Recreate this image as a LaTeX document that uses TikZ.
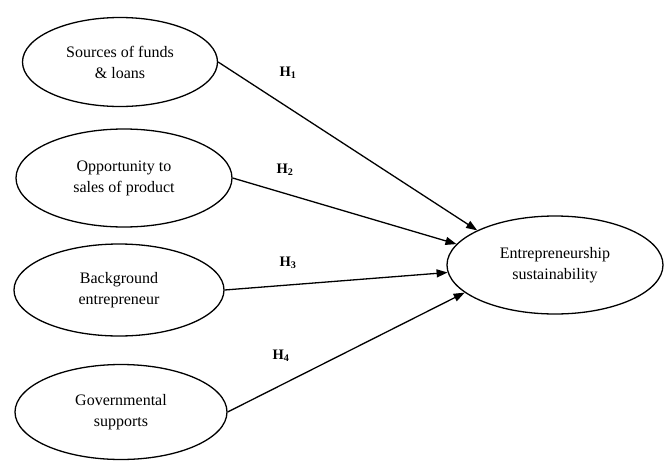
\documentclass[tikz,border=0pt]{standalone}
\usepackage{fontspec}
\setmainfont{Liberation Serif}
\usetikzlibrary{arrows.meta, shapes.geometric, positioning}

\tikzset{
	factor/.style={draw, ellipse, line width=1.3pt, inner sep=0pt, align=center, font=\fontsize{16}{21}\selectfont},
	hyp/.style={font=\fontsize{14.5}{16}\selectfont\bfseries},
}

\begin{document}
\begin{tikzpicture}[x=1pt, y=-1pt, >={Triangle[length=11pt,width=8pt]}]
		\useasboundingbox (0,0) rectangle (670,461);
		% independent factors
		\node[factor, minimum width=195pt, minimum height=89pt] (funds) at (120,62) {Sources of funds\\\& loans};
		\node[factor, minimum width=216pt, minimum height=98pt] (sales) at (124,178) {Opportunity to\\sales of product};
		\node[factor, minimum width=210pt, minimum height=92pt] (backgr) at (119,290) {Background\\entrepreneur};
		\node[factor, minimum width=212pt, minimum height=95pt] (govern) at (121,412) {Governmental\\supports};
		% dependent factor
		\node[factor, minimum width=216pt, minimum height=98pt] (sustain) at (555,265) {Entrepreneurship\\sustainability};

		\draw[->, line width=1.3pt] (funds.east) -- (sustain.156);
		\draw[->, line width=1.3pt] (sales.east) -- (sustain.168);
		\draw[->, line width=1.3pt] (backgr.east) -- (sustain.184);
		\draw[->, line width=1.3pt] (govern.east) -- (sustain.197);

		\node[hyp] (h1) at (288,73) {H\textsubscript{1}};
		\node[hyp] (h2) at (285,170) {H\textsubscript{2}};
		\node[hyp] (h3) at (288,263) {H\textsubscript{3}};
		\node[hyp] (h4) at (281,356) {H\textsubscript{4}};
	\end{tikzpicture}
\end{document}
